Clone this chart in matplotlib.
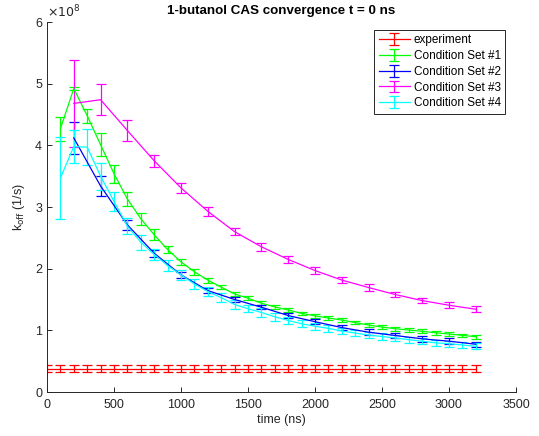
import numpy as np
import matplotlib
matplotlib.use('Agg')
import matplotlib.pyplot as plt

plt.rcParams['font.family'] = ['Liberation Sans', 'DejaVu Sans']

# k_off values in units of 1e8 1/s
t_exp = list(range(0, 3300, 100))
k_exp = [0.38, 0.38, 0.38, 0.38, 0.38, 0.38, 0.38, 0.38, 0.38, 0.38, 0.38,
         0.38, 0.38, 0.38, 0.38, 0.38, 0.38, 0.38, 0.38, 0.38, 0.38, 0.38,
         0.38, 0.38, 0.38, 0.38, 0.38, 0.38, 0.38, 0.38, 0.38, 0.38, 0.38]
e_exp = [0.055] * len(k_exp)

t_100 = list(range(100, 3300, 100))
t_200 = list(range(200, 3300, 200))

k_set1 = [4.27, 4.92, 4.48, 4.01, 3.54, 3.13, 2.81, 2.55, 2.31, 2.11, 1.95,
          1.815, 1.70, 1.59, 1.52, 1.44, 1.38, 1.33, 1.275, 1.235, 1.20,
          1.167, 1.126, 1.086, 1.053, 1.026, 1.005, 0.984, 0.961, 0.94,
          0.919, 0.896]
e_set1 = [0.195, 0.03, 0.11, 0.19, 0.145, 0.12, 0.10, 0.09, 0.06, 0.055,
          0.045, 0.04, 0.035, 0.035, 0.03, 0.035, 0.03, 0.03, 0.03, 0.03,
          0.03, 0.03, 0.03, 0.03, 0.03, 0.03, 0.03, 0.03, 0.03, 0.03, 0.025,
          0.03]

k_set2 = [4.12, 3.34, 2.71, 2.25, 1.90, 1.645, 1.50, 1.375, 1.24, 1.14,
          1.045, 0.97, 0.916, 0.862, 0.824, 0.775]
e_set2 = [0.26, 0.16, 0.08, 0.06, 0.045, 0.035, 0.04, 0.035, 0.045, 0.045,
          0.04, 0.045, 0.045, 0.045, 0.045, 0.04]

k_set3 = [4.68, 4.74, 4.24, 3.75, 3.31, 2.93, 2.60, 2.355, 2.15, 1.97,
          1.815, 1.694, 1.58, 1.483, 1.407, 1.342]
e_set3 = [0.70, 0.25, 0.17, 0.10, 0.085, 0.075, 0.06, 0.065, 0.055, 0.06,
          0.055, 0.05, 0.045, 0.045, 0.05, 0.05]

k_set4 = [3.47, 3.98, 3.97, 3.50, 3.09, 2.69, 2.43, 2.23, 2.05, 1.90, 1.75,
          1.63, 1.53, 1.42, 1.35, 1.29, 1.22, 1.16, 1.107, 1.067, 1.032,
          0.99, 0.956, 0.924, 0.90, 0.875, 0.848, 0.824, 0.797, 0.783,
          0.762, 0.742]
e_set4 = [0.66, 0.27, 0.29, 0.22, 0.155, 0.13, 0.12, 0.095, 0.09, 0.08,
          0.075, 0.075, 0.07, 0.07, 0.06, 0.07, 0.065, 0.06, 0.06, 0.06,
          0.055, 0.055, 0.05, 0.055, 0.05, 0.05, 0.05, 0.045, 0.045, 0.05,
          0.045, 0.045]

series = [
    (t_exp, k_exp, e_exp, '#ff0000', 'experiment'),
    (t_100, k_set1, e_set1, '#00ff00', 'Condition Set #1'),
    (t_200, k_set2, e_set2, '#0000ff', 'Condition Set #2'),
    (t_200, k_set3, e_set3, '#ff00ff', 'Condition Set #3'),
    (t_100, k_set4, e_set4, '#00ffff', 'Condition Set #4'),
]

fig = plt.figure(figsize=(5.39, 4.36), dpi=100)
ax = fig.add_axes([0.0872, 0.1009, 0.8701, 0.8486])

for t, k, e, c, lab in series:
    ax.errorbar(t, k, yerr=e, color=c, lw=0.9, elinewidth=0.9,
                capsize=3.8, capthick=0.9, label=lab)

ax.set_xlim(0, 3500)
ax.set_ylim(0, 6)
ax.set_xticks(np.arange(0, 3501, 500))
ax.set_yticks(np.arange(0, 7, 1))
ax.spines['top'].set_visible(False)
ax.spines['right'].set_visible(False)
for s in ['left', 'bottom']:
    ax.spines[s].set_color('#262626')
    ax.spines[s].set_linewidth(0.7)
ax.tick_params(direction='in', length=3.5, width=0.7, colors='#262626',
               labelsize=9, labelcolor='#262626')
ax.tick_params(axis='x', pad=5)

ax.text(0.0, 1.005, r'$\times10^{8}$', transform=ax.transAxes, fontsize=9,
        color='#262626', ha='left', va='bottom')
ax.set_title('1-butanol CAS convergence t = 0 ns', fontsize=9.6,
             fontweight='bold', pad=6)
ax.set_xlabel('time (ns)', fontsize=9, color='#262626', labelpad=2)
ax.set_ylabel(r'k$_{\rm off}$ (1/s)', fontsize=9, color='#262626', labelpad=6)

leg = ax.legend(loc='upper right', bbox_to_anchor=(0.977, 0.978),
                borderaxespad=0, fontsize=8.5, fancybox=False, framealpha=1,
                edgecolor='#262626', handlelength=2.7, handletextpad=0.3,
                labelspacing=0.32, borderpad=0.35)
leg.get_frame().set_linewidth(0.7)

fig.savefig('out.png', dpi=100)
